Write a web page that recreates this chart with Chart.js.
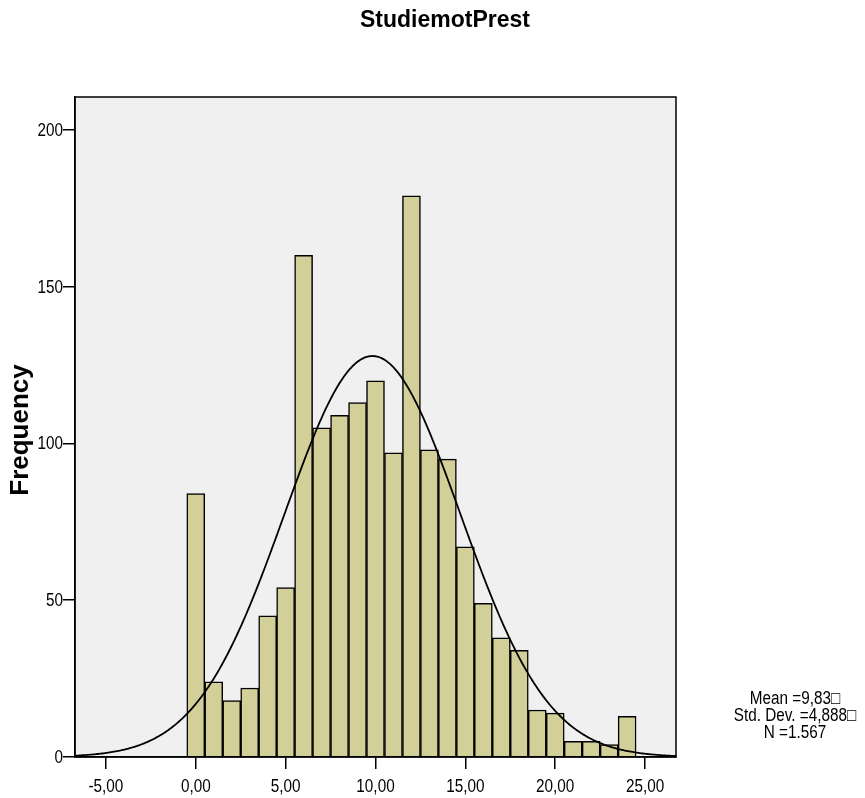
<!DOCTYPE html>
<html>
<head>
<meta charset="utf-8">
<script src="https://cdn.jsdelivr.net/npm/chart.js@4.4.1/dist/chart.umd.min.js"></script>
<style>
body { margin: 0; background: #fff; }
</style>
</head>
<body>
<canvas id="mycanvas" width="865" height="798"></canvas>
<script>
// histogram bins (centre of each bin) and their counts
var binCenters = [0, 1, 2, 3, 4, 5, 6, 7, 8, 9, 10, 11, 12, 13, 14, 15, 16, 17, 18, 19, 20, 21, 22, 23, 24];
var frequencies = [84, 24, 18, 22, 45, 54, 160, 105, 109, 113, 120, 97, 179, 98, 95, 67, 49, 38, 34, 15, 14, 5, 5, 4, 13];

var xTickValues = [-5, 0, 5, 10, 15, 20, 25];
var yTickValues = [0, 50, 100, 150, 200];

// summary stats shown next to the plot, also used for the normal curve
var mean = 9.83;
var stdDev = 4.888;
var total = 1567;
var binWidth = 1;
var statLines = ['Mean =9,83\u25A1', 'Std. Dev. =4,888\u25A1', 'N =1.567'];

var xMin = -6.72, xMax = 26.72;
var yMin = 0, yMax = 210.5;

var sans = "'Liberation Sans', Arial, sans-serif";

var barData = [];
for (var i in binCenters) {
    barData.push({ x: binCenters[i], y: frequencies[i] });
}

// fitted normal curve: N * binWidth * pdf(x)
var curveData = [];
for (var k = 0; k <= 400; k++) {
    var x = xMin + (xMax - xMin) * k / 400;
    var z = (x - mean) / stdDev;
    var y = total * binWidth * Math.exp(-0.5 * z * z) / (stdDev * Math.sqrt(2 * Math.PI));
    curveData.push({ x: x, y: y });
}

// narrow text, like the SPSS output font
function narrowText(c, txt, x, y, align) {
    var sx = 0.85;
    c.save();
    c.translate(x, y);
    c.scale(sx, 1);
    c.textAlign = align;
    c.fillText(txt, 0, 0);
    c.restore();
}

function fmt(v) {
    return v.toFixed(2).replace('.', ',');
}

var decor = {
    id: 'decor',
    beforeDraw: function (chart) {
        var c = chart.ctx, a = chart.chartArea;
        c.save();
        c.fillStyle = '#ffffff';
        c.fillRect(0, 0, chart.width, chart.height);
        c.fillStyle = '#f0f0f0';
        c.fillRect(a.left, a.top, a.right - a.left, a.bottom - a.top);
        c.restore();
    },
    afterDraw: function (chart) {
        var c = chart.ctx, a = chart.chartArea;
        var xs = chart.scales.x, ys = chart.scales.y;
        c.save();
        c.strokeStyle = '#000';
        c.lineWidth = 1.5;
        c.strokeRect(a.left, a.top, a.right - a.left, a.bottom - a.top);

        c.fillStyle = '#000';
        c.textBaseline = 'middle';

        // tick labels
        c.font = '18px ' + sans;
        for (var t = 0; t < xTickValues.length; t++) {
            narrowText(c, fmt(xTickValues[t]), xs.getPixelForValue(xTickValues[t]), 787, 'center');
        }
        for (var u = 0; u < yTickValues.length; u++) {
            narrowText(c, String(yTickValues[u]), 63, ys.getPixelForValue(yTickValues[u]) + 1, 'right');
        }

        c.textAlign = 'center';
        c.font = 'bold 23px ' + sans;
        c.fillText('StudiemotPrest', 445, 21);

        c.save();
        c.translate(21, 430);
        c.rotate(-Math.PI / 2);
        c.font = 'bold 26px ' + sans;
        c.fillText('Frequency', 0, 0);
        c.restore();

        c.font = '18px ' + sans;
        for (var j = 0; j < statLines.length; j++) {
            narrowText(c, statLines[j], 795, 699 + j * 17, 'center');
        }
        c.restore();
    }
};

var ctx = document.getElementById('mycanvas');

var histChart = new Chart(ctx, {
    type: 'bar',
    data: {
        datasets: [
            {
                type: 'line',
                data: curveData,
                borderColor: '#000',
                borderWidth: 1.8,
                pointRadius: 0,
                fill: false,
                tension: 0,
                order: 0
            },
            {
                type: 'bar',
                data: barData,
                backgroundColor: 'rgb(211,207,152)',
                borderColor: '#000',
                borderWidth: 1.5,
                barPercentage: 1,
                categoryPercentage: 1,
                grouped: false,
                order: 1
            }
        ]
    },
    options: {
        responsive: false,
        animation: false,
        devicePixelRatio: 1,
        layout: { padding: { top: 97, right: 189, left: 0, bottom: 0 } },
        plugins: {
            legend: { display: false },
            tooltip: { enabled: false },
            title: { display: false }
        },
        scales: {
            x: {
                type: 'linear',
                min: xMin,
                max: xMax,
                offset: false,
                afterBuildTicks: function (scale) {
                    scale.ticks = xTickValues.map(function (v) { return { value: v }; });
                },
                afterFit: function (scale) { scale.height = 41; },
                grid: { display: true, offset: false, drawOnChartArea: false, drawTicks: true, tickLength: 12, color: '#000', lineWidth: 1.5 },
                border: { display: true, color: '#000', width: 1.5 },
                ticks: { display: false }
            },
            y: {
                type: 'linear',
                min: yMin,
                max: yMax,
                afterBuildTicks: function (scale) {
                    scale.ticks = yTickValues.map(function (v) { return { value: v }; });
                },
                afterFit: function (scale) { scale.width = 75; },
                grid: { display: true, drawOnChartArea: false, drawTicks: true, tickLength: 12, color: '#000', lineWidth: 1.5 },
                border: { display: true, color: '#000', width: 1.5 },
                ticks: { display: false }
            }
        }
    },
    plugins: [decor]
});
</script>
</body>
</html>
